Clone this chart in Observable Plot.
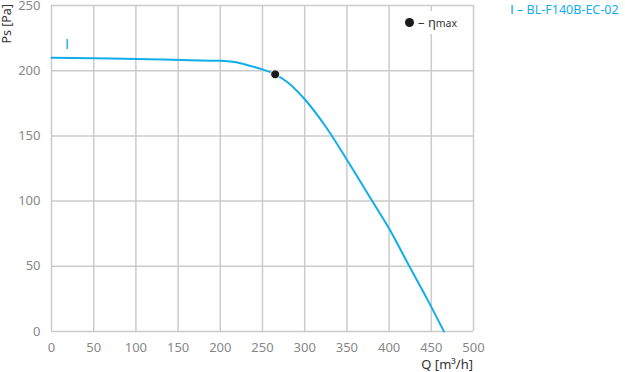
<!DOCTYPE html>
<html><head><meta charset="utf-8">
<script src="https://cdn.jsdelivr.net/npm/d3@7"></script>
<script src="https://cdn.jsdelivr.net/npm/@observablehq/plot@0.6"></script>
<style>
body{margin:0;background:#fff;font-family:"Noto Sans",sans-serif;}
#wrap{position:relative;width:625px;height:372px;overflow:hidden;}
.ov{position:absolute;white-space:nowrap;line-height:1;}
#ylab{left:1px;top:4px;writing-mode:vertical-rl;transform:rotate(180deg);font-size:12.5px;color:#333;}
#xlab{right:152px;top:358px;font-size:13px;color:#333;}
#curveId{left:65px;top:37px;font-size:14px;color:#12aeea;font-family:"DejaVu Sans",sans-serif;}
#legend{left:510px;top:3px;font-size:12.5px;color:#12aeea;}
#legend b{font-weight:normal;font-size:13px;font-family:"DejaVu Sans",sans-serif;}
#eta{left:396px;top:11px;width:70px;height:23px;background:#fff;font-size:13px;color:#333;}
#eta .dot{position:absolute;left:9px;top:7px;width:9px;height:9px;border-radius:50%;background:#1a1a1a;}
#eta .t{position:absolute;left:22px;top:5px;}
#eta .t small{font-size:10.5px;}
</style></head><body><div id="wrap"></div>
<script>
const flow     = [0,   50,    100, 164, 200,   217,   232,   250, 265,   280, 300,   325, 350,   380, 400, 424, 445, 465];
const pressure = [210, 209.5, 209, 208, 207.6, 206.6, 204.3, 201, 197.2, 191, 178.1, 157, 131.7, 100, 79,  50,  25,  0];
const etaFlow = [265];
const etaPressure = [197.2];
const xTicks = [0,50,100,150,200,250,300,350,400,450,500];
const yTicks = [0,50,100,150,200,250];
const seriesName = "BL-F140B-EC-02";
const curveLabel = "I";

const data = flow.map((q,i)=>({q, ps: pressure[i]}));
const eta = etaFlow.map((q,i)=>({q, ps: etaPressure[i]}));

const chart = Plot.plot({
  width:625, height:372,
  marginLeft:51, marginRight:152, marginTop:5, marginBottom:41,
  style:{fontFamily:"Noto Sans", fontSize:"13px", color:"#888", background:"#fff"},
  x:{domain:[0,500], label:null},
  y:{domain:[0,250], label:null},
  marks:[
    Plot.gridX(xTicks,{stroke:"#cbcbcb", strokeOpacity:1, strokeWidth:1.5}),
    Plot.gridY(yTicks,{stroke:"#cbcbcb", strokeOpacity:1, strokeWidth:1.5}),
    Plot.axisX(xTicks,{tickSize:0, tickPadding:11, label:null}),
    Plot.axisY(yTicks,{tickSize:0, tickPadding:11, label:null}),
    Plot.line(data,{x:"q", y:"ps", curve:"monotone-x", stroke:"#12aeea", strokeWidth:2}),
    Plot.dot(eta,{x:"q", y:"ps", r:4.5, fill:"#1a1a1a", stroke:"#fff", strokeWidth:1})
  ]
});
const wrap = document.getElementById("wrap");
wrap.appendChild(chart);
function ov(id, html){const d=document.createElement("div");d.className="ov";d.id=id;d.innerHTML=html;wrap.appendChild(d);return d;}
ov("ylab","Ps [Pa]");
ov("xlab","Q [m³/h]");
ov("curveId", curveLabel);
ov("legend", "<b>"+curveLabel+"</b> – "+seriesName);
ov("eta", '<span class="dot"></span><span class="t">– η<small>max</small></span>');
</script></body></html>
